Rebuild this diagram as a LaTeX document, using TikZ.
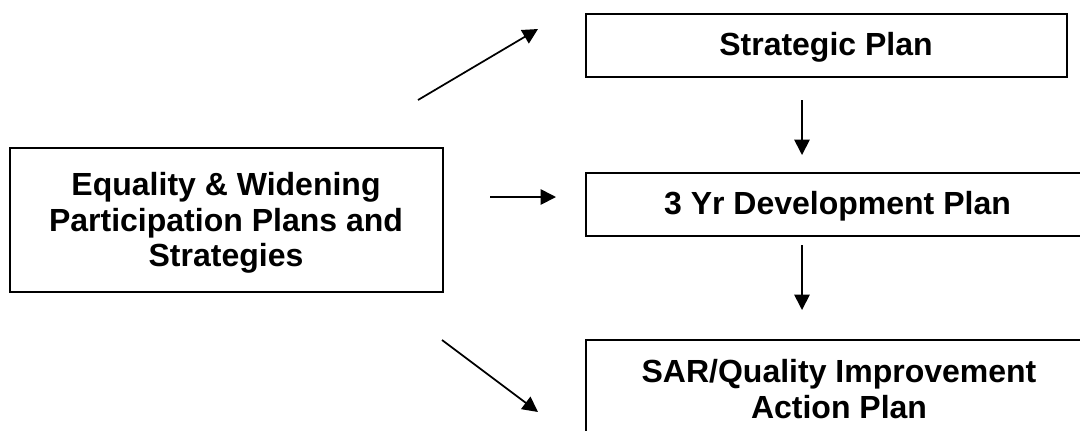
\documentclass[tikz,border=0pt]{standalone}
\usepackage{fontspec}
\setmainfont{Liberation Sans}
\usetikzlibrary{arrows.meta}
\begin{document}
\begin{tikzpicture}[x=0.75pt,y=-0.75pt,
  box/.style={draw, line width=1.3pt, rectangle, inner sep=0pt},
  lbl/.style={font=\fontsize{24}{26.5}\selectfont\bfseries, align=center, inner sep=0pt},
  arr/.style={line width=1.3pt, -{Triangle[length=11.5pt,width=11.5pt]}}]
\useasboundingbox (0,0) rectangle (1080,430);
% boxes
\node[box, minimum width=433*0.75pt, minimum height=144*0.75pt] (eq) at (226.5,220) {};
\node[lbl] (eqt) at (226,223) {Equality \& Widening\\Participation Plans and\\Strategies};
\node[box, minimum width=481*0.75pt, minimum height=63*0.75pt] (sp) at (826.5,45.5) {};
\node[lbl] (spt) at (826,47) {Strategic Plan};
\node[box, minimum width=514*0.75pt, minimum height=63*0.75pt] (dev) at (843,204.5) {};
\node[lbl] (devt) at (837.5,206) {3 Yr Development Plan};
\node[box, minimum width=514*0.75pt, minimum height=130*0.75pt] (sar) at (843,405) {};
\node[lbl] (sart) at (839,389) {SAR/Quality Improvement\\Action Plan};
% connector ends
\coordinate (a1s) at (418,100); \coordinate (a1e) at (538,29);
\coordinate (a2s) at (490,197); \coordinate (a2e) at (556,197);
\coordinate (a3s) at (442,340); \coordinate (a3e) at (538,412);
\coordinate (d1s) at (802,100); \coordinate (d1e) at (802,155);
\coordinate (d2s) at (802,245); \coordinate (d2e) at (802,310);
\draw[arr] (a1s) -- (a1e);
\draw[arr] (a2s) -- (a2e);
\draw[arr] (a3s) -- (a3e);
\draw[arr] (d1s) -- (d1e);
\draw[arr] (d2s) -- (d2e);
\end{tikzpicture}
\end{document}
